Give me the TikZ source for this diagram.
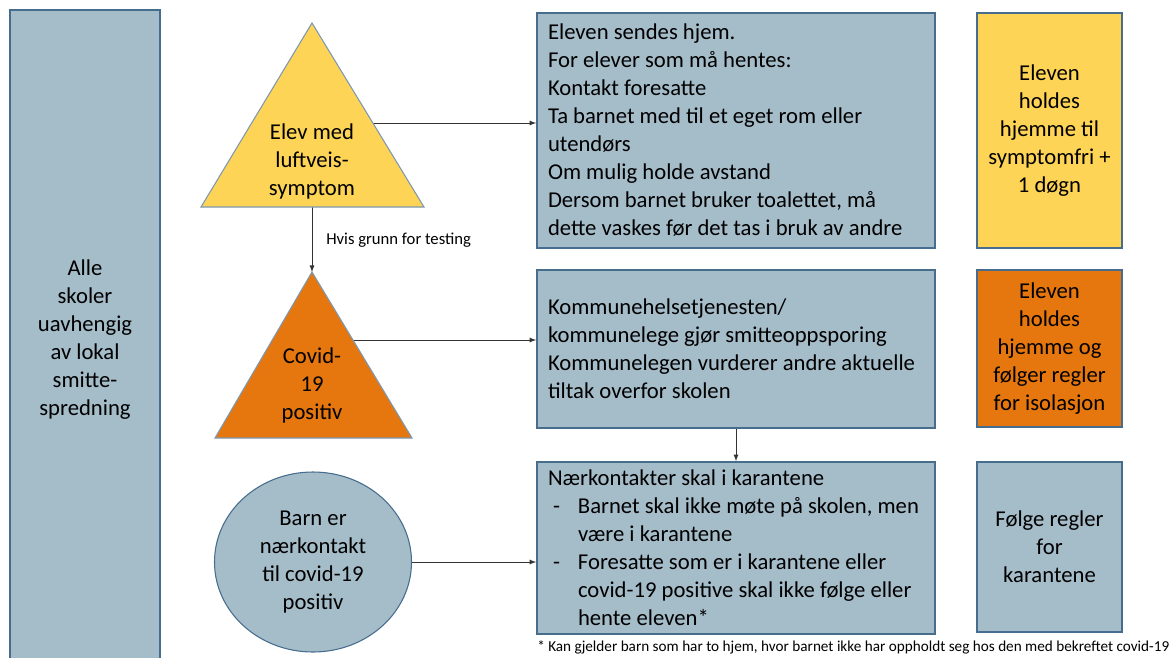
\documentclass[tikz,border=0pt]{standalone}
\usepackage{fontspec}
\setmainfont{Carlito}
\usepackage{tikz}
\usetikzlibrary{shapes.geometric}
\usetikzlibrary{positioning}
\usetikzlibrary{calc}
\definecolor{greyblue}{RGB}{165,188,201}
\definecolor{edgeblue}{RGB}{70,108,142}
\definecolor{sunyellow}{RGB}{253,212,86}
\definecolor{deeporange}{RGB}{230,118,14}
\pgfdeclarelayer{nodelayer}
\pgfdeclarelayer{edgelayer}
\pgfsetlayers{edgelayer,nodelayer,main}
\newcommand{\px}{0.75pt}
\newcommand{\bullit}{\makebox[22.5pt][l]{\hspace{3.75pt}-}}
\newcommand{\indnt}{\hspace*{22.5pt}}
\tikzset{panel/.style={draw=edgeblue, line width=1.3pt, fill=greyblue, inner sep=0pt,
font=\fontsize{17}{21}\selectfont, align=flush center}}
\tikzset{listbox/.style={panel, align=flush left, text width=376*\px, minimum width=398*\px}}
\tikzset{sidebox/.style={panel, minimum width=145*\px}}
\tikzset{tri/.style={draw=edgeblue!70, line width=0.8pt, line join=miter}}
\tikzset{label/.style={inner sep=0pt, align=flush center, font=\fontsize{17}{21}\selectfont}}
\tikzset{link/.style={->, >=latex, draw=black!80, line width=0.7pt}}
\tikzstyle{none}=[inner sep=0pt]

\begin{document}
\begin{tikzpicture}[x=0.75pt, y=-0.75pt]
        \useasboundingbox (0,0) rectangle (1174,657);
        \begin{pgfonlayer}{nodelayer}
            \node [panel, minimum width=150*\px, minimum height=660*\px] (0) at (85, 340) {Alle\\skoler\\uavhengig\\av lokal\\smitte-\\spredning};
            \node [listbox, minimum height=235*\px] (1) at (736, 130.5) {Eleven sendes hjem.\\For elever som må hentes:\\Kontakt foresatte\\Ta barnet med til et eget rom eller\\utendørs\\Om mulig holde avstand\\Dersom barnet bruker toalettet, må\\dette vaskes før det tas i bruk av andre};
            \node [sidebox, fill=sunyellow, minimum height=235*\px] (2) at (1049.5, 130.5) {Eleven\\holdes\\hjemme til\\symptomfri +\\1 døgn};
            \node [listbox, minimum height=158*\px] (3) at (736, 349) {Kommunehelsetjenesten/\\kommunelege gjør smitteoppsporing\\Kommunelegen vurderer andre aktuelle\\tiltak overfor skolen};
            \node [sidebox, fill=deeporange, minimum height=157*\px] (4) at (1049.5, 348.5) {Eleven\\holdes\\hjemme og\\følger regler\\for isolasjon};
            \node [listbox, minimum height=172*\px] (5) at (736, 548) {Nærkontakter skal i karantene\\\bullit Barnet skal ikke møte på skolen, men\\\indnt være i karantene\\\bullit Foresatte som er i karantene eller\\\indnt covid-19 positive skal ikke følge eller\\\indnt hente eleven*};
            \node [sidebox, minimum height=170*\px] (6) at (1049.5, 547) {Følge regler\\for\\karantene};
            \draw [tri, fill=sunyellow] (312, 23) coordinate (7) -- (424, 207) coordinate (8) -- (201, 207) coordinate (9) -- cycle;
            \draw [tri, fill=deeporange] (312, 272) coordinate (10) -- (412, 438) coordinate (11) -- (215, 438) coordinate (12) -- cycle;
            \node [label] (13) at (312, 161) {Elev med\\luftveis-\\symptom};
            \node [label] (14) at (312, 385) {Covid-\\19\\positiv};
            \node [panel, ellipse, line width=0.8pt, minimum width=197*\px, minimum height=180*\px] (15) at (313, 562) {Barn er\\nærkontakt\\til covid-19\\positiv};
            \node [style=none, anchor=west, font=\fontsize{12.5}{14}\selectfont] (16) at (326, 240) {Hvis grunn for testing};
            \node [style=none, anchor=west, font=\fontsize{11.4}{12}\selectfont] (17) at (537, 647.5) {* Kan gjelder barn som har to hjem, hvor barnet ikke har oppholdt seg hos den med bekreftet covid-19};
            \coordinate (18) at (373, 123);
            \coordinate (19) at (312, 207);
            \coordinate (20) at (353, 340);
        \end{pgfonlayer}
        \begin{pgfonlayer}{edgelayer}
            \draw [link] (18) to (18 -| 1.west);
            \draw [link] (19) to (10);
            \draw [link] (20) to (20 -| 3.west);
            \draw [link] (3) to (5);
            \draw [link] (15.east) to (15.east -| 5.west);
        \end{pgfonlayer}
    \end{tikzpicture}
\end{document}
